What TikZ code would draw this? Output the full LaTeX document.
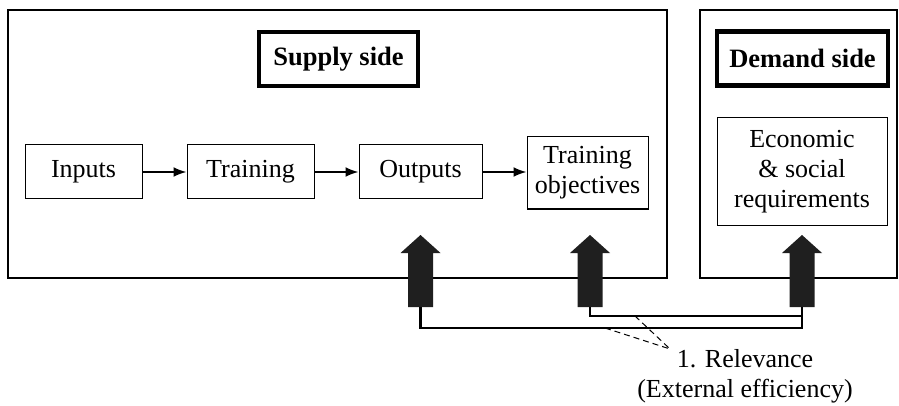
\documentclass[tikz,border=0pt]{standalone}
\usepackage{fontspec}
\setmainfont{Liberation Serif}
\usetikzlibrary{arrows.meta}
\begin{document}
\begin{tikzpicture}[x=1pt,y=-1pt, font=\fontsize{26}{30}\selectfont,
 box/.style={draw, line width=1pt, inner sep=0pt, align=center},
 side/.style={draw, line width=2pt, inner sep=0pt},
 lbl/.style={draw, line width=4.5pt, inner sep=0pt, font=\fontsize{26.5}{30}\selectfont\bfseries},
 flow/.style={-{Latex[length=13pt,width=10pt]}, line width=2pt},
 bigfill/.style={fill=black!88},
 link/.style={line width=2.5pt},
 lead/.style={line width=1pt, dash pattern=on 6pt off 4pt}]
\useasboundingbox (0,0) rectangle (899,406);
\node[side, minimum width=659pt, minimum height=268pt] (supply) at (337.5,144) {};
\node[side, minimum width=197pt, minimum height=268pt] (demand) at (798.5,144) {};
\node[lbl, minimum width=159pt, minimum height=54pt] (slbl) at (338.5,59) {Supply side};
\node[lbl, minimum width=171pt, minimum height=54pt] (dlbl) at (802.5,58.5) {Demand side};
\node[box, minimum width=117pt, minimum height=54pt] (inputs) at (83.5,172) {Inputs};
\node[box, minimum width=127pt, minimum height=54pt] (training) at (250.5,172) {Training};
\node[box, minimum width=123pt, minimum height=54pt] (outputs) at (420.5,172) {Outputs};
\node[box, minimum width=121pt, minimum height=72pt] (obj) at (587.5,173) {Training\\objectives};
\node[box, minimum width=170pt, minimum height=107pt] (econ) at (802,171.5) {Economic\\\& social\\requirements};
\draw[flow] (inputs) -- (training);
\draw[flow] (training) -- (outputs);
\draw[flow] (outputs.east) -- (obj.west |- outputs.east);
\coordinate (a1) at (420.5,307);
\coordinate (a2) at (590,307);
\coordinate (a3) at (802,307);
\foreach \a in {a1,a2,a3}{
  \fill[bigfill] (\a) +(-12.5,0) -- +(-12.5,-54) -- +(-20,-54) -- +(0,-72) -- +(20,-54) -- +(12.5,-54) -- +(12.5,0) -- cycle;
}
\coordinate (low) at (0,328);
\coordinate (high) at (0,316);
\draw[link] (a1) |- (low -| a3) -- (a3);
\draw[link] (a2) |- (high -| a3);
\coordinate (d1) at (605,328);
\coordinate (d2) at (635,316);
\coordinate (tipL) at (670,349);
\draw[lead] (d1) -- (tipL);
\draw[lead] (d2) -- (tipL);
\node[align=center] (rel) at (745,376) {1. Relevance\\(External efficiency)};
\end{tikzpicture}
\end{document}
